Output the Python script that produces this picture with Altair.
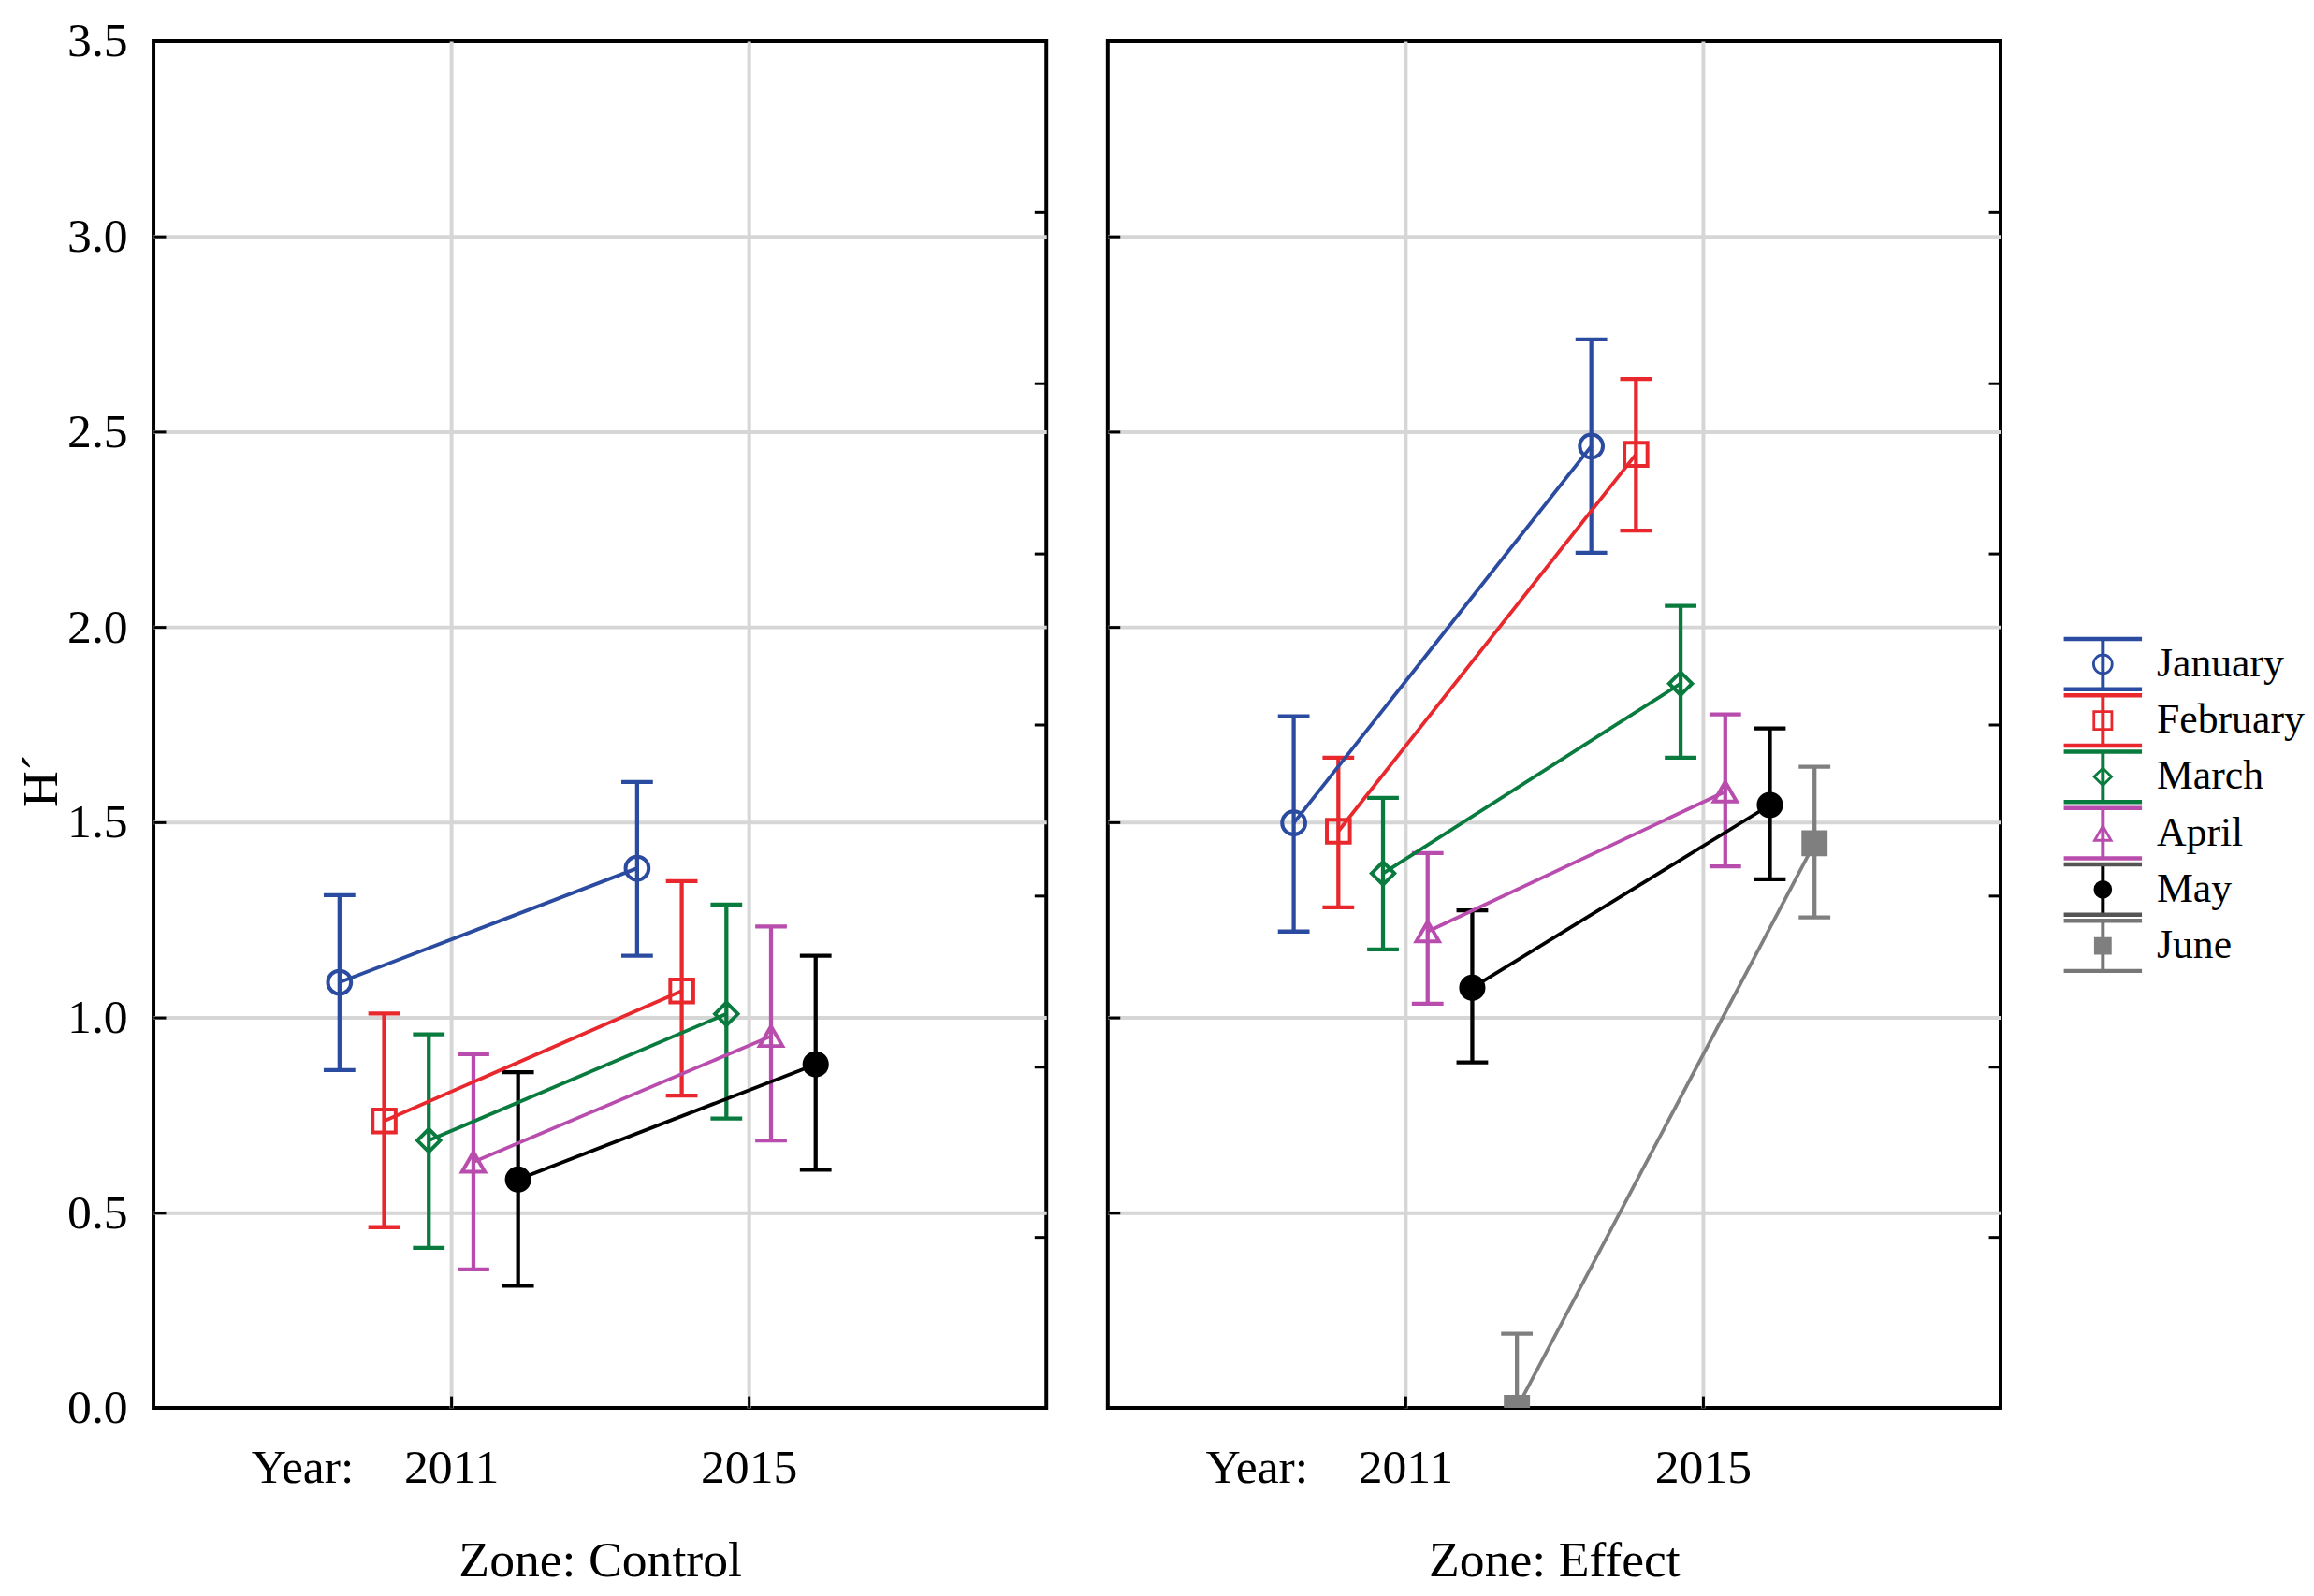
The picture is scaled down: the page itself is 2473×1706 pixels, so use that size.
import altair as alt
import pandas as pd

# ---------------- data ----------------
months = ["January", "February", "March", "April", "May", "June"]
zones = ["Control", "Effect"]
years = [2011, 2015]

control_2011_mean = [1.090, 0.735, 0.685, 0.630, 0.585, None]
control_2011_lo = [0.865, 0.463, 0.410, 0.355, 0.313, None]
control_2011_hi = [1.313, 1.010, 0.957, 0.906, 0.860, None]

control_2015_mean = [1.382, 1.068, 1.009, 0.952, 0.880, None]
control_2015_lo = [1.158, 0.800, 0.741, 0.685, 0.610, None]
control_2015_hi = [1.603, 1.349, 1.289, 1.233, 1.158, None]

effect_2011_mean = [1.498, 1.477, 1.369, 1.220, 1.076, 0.000]
effect_2011_lo = [1.220, 1.282, 1.174, 1.035, 0.885, -0.190]
effect_2011_hi = [1.771, 1.665, 1.562, 1.421, 1.274, 0.190]

effect_2015_mean = [2.463, 2.442, 1.855, 1.578, 1.544, 1.446]
effect_2015_lo = [2.190, 2.247, 1.665, 1.387, 1.354, 1.256]
effect_2015_hi = [2.736, 2.635, 2.054, 1.776, 1.740, 1.642]

y_tick_values = [0.0, 0.5, 1.0, 1.5, 2.0, 2.5, 3.0, 3.5]
right_tick_values = [0.4375, 0.875, 1.3125, 1.75, 2.1875, 2.625, 3.0625]
x_label_values = [2009, 2011, 2015]

series = {
    ("Control", 2011): (control_2011_mean, control_2011_lo, control_2011_hi),
    ("Control", 2015): (control_2015_mean, control_2015_lo, control_2015_hi),
    ("Effect", 2011): (effect_2011_mean, effect_2011_lo, effect_2011_hi),
    ("Effect", 2015): (effect_2015_mean, effect_2015_lo, effect_2015_hi),
}

rows = []
for (zone, year), (mv, lv, hv) in series.items():
    for i, m in enumerate(months):
        if mv[i] is None:
            continue
        rows.append(dict(zone=zone, year=year, month=m, idx=i,
                         mean=mv[i], lo=lv[i], hi=hv[i]))
df = pd.DataFrame(rows)
# dodge months around each year
df["xpos"] = df["year"] + (df["idx"] - 2.5) * 0.6

# ---------------- style ----------------
FONT = "Liberation Serif"
W, H = 960, 1470
colors = ["#2B4BA0", "#E8282C", "#0A7B3E", "#B84DAE", "#000000", "#7F7F7F"]
shapes = ["circle", "square", "diamond", "triangle-up", "circle", "square"]
fills = ["transparent", "transparent", "transparent", "transparent", "#000000", "#7F7F7F"]
sizes = [620, 580, 640, 700, 620, 620]
pt_widths = [4, 4, 4, 2, 1, 1]
bar_widths = [4.3, 4.3, 4.3, 4.3, 5.3, 4.3]
line_widths = [3.8, 3.8, 3.8, 3.8, 4.8, 3.8]
GRID = "#d6d6d6"

yscale = alt.Scale(domain=[0, 3.5], nice=False, zero=False)
xscale = alt.Scale(domain=[2007, 2019], nice=False, zero=False)
col = alt.Color("month:N", scale=alt.Scale(domain=months, range=colors), legend=None)

hide_edges = {"condition": {"test": "datum.value == 0 || datum.value == 3.5", "value": 0}, "value": 1}
hide_year = {"condition": {"test": "datum.value == 2009", "value": 0}, "value": 1}


def panel(zone, first):
    d = df[df.zone == zone]
    base = alt.Chart(d)

    x_axis = alt.Axis(
        values=x_label_values, format="d",
        labelExpr="datum.value == 2009 ? 'Year:' : datum.label",
        grid=True, gridColor=GRID, gridWidth=4, gridOpacity=hide_year,
        ticks=True, tickSize=13, tickWidth=3, tickColor="black", tickOpacity=hide_year,
        offset=-13, domain=False,
        labelPadding=39, labelFont=FONT, labelFontSize=52, labelColor="black",
        title=f"Zone: {zone}", titleFont=FONT, titleFontSize=54,
        titleFontWeight="normal", titleColor="black", titlePadding=48,
    )
    X = alt.X("xpos:Q", scale=xscale, axis=x_axis)

    y_left_kw = dict(
        values=y_tick_values, format=".1f",
        grid=True, gridColor=GRID, gridWidth=4, gridOpacity=hide_edges,
        ticks=True, tickSize=13, tickWidth=3, tickColor="black",
        offset=-13, domain=False,
        labels=first, labelPadding=28, labelFont=FONT, labelFontSize=52, labelColor="black",
    )
    if first:
        y_left_kw.update(title="H´", titleFont=FONT, titleFontSize=54,
                         titleFontWeight="normal", titleColor="black",
                         titlePadding=0, titleY=795)
    else:
        y_left_kw.update(title="")
    y_left = alt.Axis(**y_left_kw)
    y_right = alt.Axis(
        orient="right", values=right_tick_values, labels=False, grid=False,
        ticks=True, tickSize=13, tickWidth=3, tickColor="black",
        offset=-13, domain=False, title="",
    )

    bw = alt.StrokeWidth("month:N", scale=alt.Scale(domain=months, range=bar_widths), legend=None)
    lw = alt.StrokeWidth("month:N", scale=alt.Scale(domain=months, range=line_widths), legend=None)

    stems = base.mark_rule(clip=True).encode(
        x=X, y=alt.Y("lo:Q", scale=yscale, axis=y_left), y2="hi:Q",
        color=col, strokeWidth=bw)
    cap_lo = base.mark_rule(clip=True, xOffset=-17, x2Offset=17).encode(
        x=X, x2="xpos:Q", y=alt.Y("lo:Q", scale=yscale, axis=None),
        color=col, strokeWidth=bw)
    cap_hi = base.mark_rule(clip=True, xOffset=-17, x2Offset=17).encode(
        x=X, x2="xpos:Q", y=alt.Y("hi:Q", scale=yscale, axis=None),
        color=col, strokeWidth=bw)
    lines = base.mark_line(clip=True).encode(
        x=X, y=alt.Y("mean:Q", scale=yscale, axis=y_right),
        color=col, strokeWidth=lw, detail="month:N", order="year:Q")
    pts = base.mark_point(clip=True, opacity=1).encode(
        x=X, y=alt.Y("mean:Q", scale=yscale, axis=None),
        shape=alt.Shape("month:N", scale=alt.Scale(domain=months, range=shapes), legend=None),
        stroke=alt.Stroke("month:N", scale=alt.Scale(domain=months, range=colors), legend=None),
        fill=alt.Fill("month:N", scale=alt.Scale(domain=months, range=fills), legend=None),
        size=alt.Size("month:N", scale=alt.Scale(domain=months, range=sizes), legend=None),
        strokeWidth=alt.StrokeWidth("month:N", scale=alt.Scale(domain=months, range=pt_widths), legend=None),
    )
    return (
        alt.layer(stems, cap_lo, cap_hi, lines, pts)
        .resolve_axis(y="independent")
        .resolve_scale(strokeWidth="independent")
        .properties(width=W, height=H)
    )


# ---------------- legend panel ----------------
leg = pd.DataFrame({"month": months, "row": list(range(len(months)))})
legend_caps = ["#2B4BA0", "#E8282C", "#0A7B3E", "#B84DAE", "#555555", "#777777"]
legend_stems = ["#2B4BA0", "#E8282C", "#0A7B3E", "#B84DAE", "#000000", "#777777"]
legend_caps_w = [4.5, 4.5, 4.5, 4.5, 2, 2]
legend_stem_w = [4, 4, 4, 4, 2, 2]
legend_sizes = [400, 260, 440, 350, 320, 320]

LY = alt.Y("row:Q", scale=alt.Scale(domain=[0, 5], range=[670, 973]), axis=None)
lbase = alt.Chart(leg)
l_stem = lbase.mark_rule(yOffset=-27, y2Offset=27).encode(
    x=alt.value(46), y=LY, y2="row:Q",
    color=alt.Color("month:N", scale=alt.Scale(domain=months, range=legend_stems), legend=None),
    strokeWidth=alt.StrokeWidth("month:N", scale=alt.Scale(domain=months, range=legend_stem_w), legend=None))
l_cap_top = lbase.mark_rule(yOffset=-27).encode(
    x=alt.value(4), x2=alt.value(88), y=LY,
    stroke=alt.Stroke("month:N", scale=alt.Scale(domain=months, range=legend_caps), legend=None),
    strokeWidth=alt.StrokeWidth("month:N", scale=alt.Scale(domain=months, range=legend_caps_w), legend=None))
l_cap_bot = lbase.mark_rule(yOffset=27).encode(
    x=alt.value(4), x2=alt.value(88), y=LY,
    stroke=alt.Stroke("month:N", scale=alt.Scale(domain=months, range=legend_caps), legend=None),
    strokeWidth=alt.StrokeWidth("month:N", scale=alt.Scale(domain=months, range=legend_caps_w), legend=None))
l_pts = lbase.mark_point(opacity=1).encode(
    x=alt.value(46), y=LY,
    shape=alt.Shape("month:N", scale=alt.Scale(domain=months, range=shapes), legend=None),
    stroke=alt.Stroke("month:N", scale=alt.Scale(domain=months, range=colors), legend=None),
    fill=alt.Fill("month:N", scale=alt.Scale(domain=months, range=fills), legend=None),
    size=alt.Size("month:N", scale=alt.Scale(domain=months, range=legend_sizes), legend=None),
    strokeWidth=alt.value(2.8))
l_txt = lbase.mark_text(align="left", baseline="middle", font=FONT, fontSize=44, color="black").encode(
    x=alt.value(104), y=LY, text="month:N")
legend_panel = (
    alt.layer(l_stem, l_cap_top, l_cap_bot, l_pts, l_txt)
    .resolve_scale(stroke="independent", strokeWidth="independent")
    .properties(width=240, height=H, view=alt.ViewBackground(stroke="transparent"))
)

chart = (
    alt.hconcat(panel("Control", True), panel("Effect", False), legend_panel, spacing=58)
    .resolve_scale(color="independent", stroke="independent", fill="independent",
                   shape="independent", size="independent", strokeWidth="independent")
    .properties(padding={"left": 8, "top": 3, "right": 0, "bottom": 0})
    .configure(font=FONT)
    .configure_view(stroke="black", strokeWidth=4)
)

chart.save("out.html", embed_options={"renderer": "svg", "actions": False})
